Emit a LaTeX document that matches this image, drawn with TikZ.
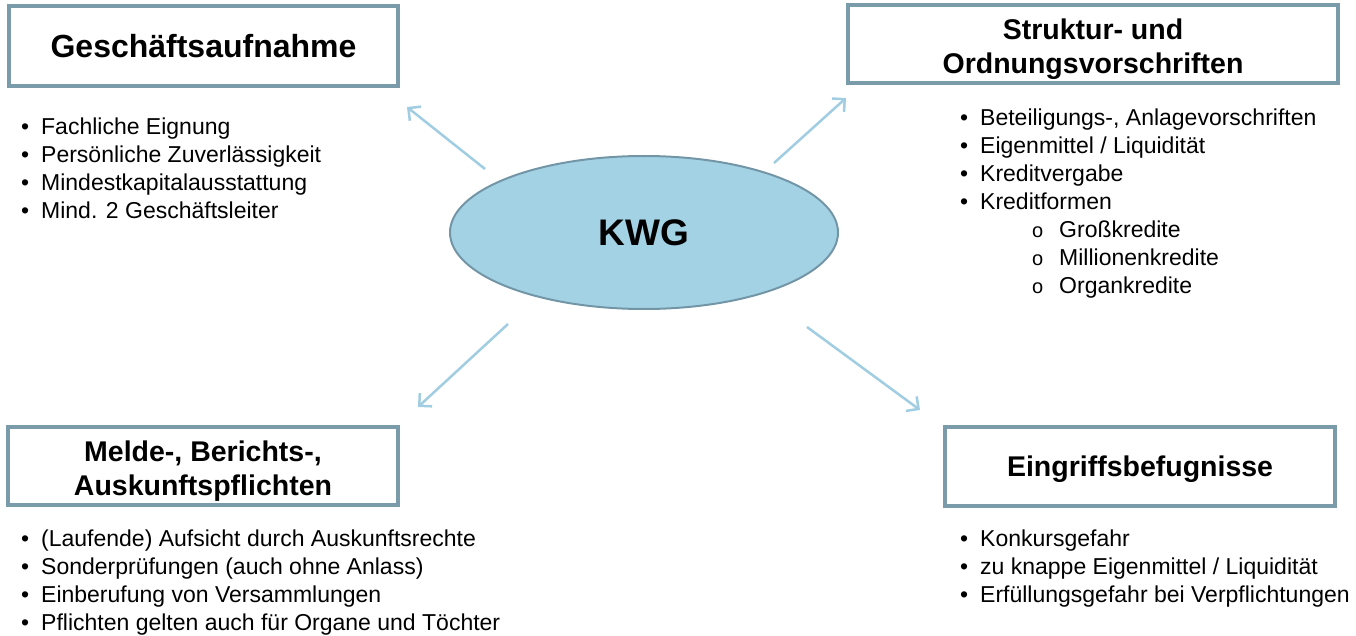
\documentclass[tikz,border=0pt]{standalone}
\usepackage{fontspec}
\setmainfont{Liberation Sans}
\usetikzlibrary{shapes.geometric,arrows.meta}
\definecolor{boxline}{RGB}{122,155,170}
\definecolor{kwgfill}{RGB}{164,210,229}
\definecolor{kwgline}{RGB}{115,150,167}
\definecolor{spokeblue}{RGB}{160,205,225}
\newcommand{\itm}[1]{\strut\makebox[20pt][l]{\textbullet}#1}
\newcommand{\subitm}[1]{\strut\hspace*{72pt}\makebox[27pt][l]{\fontsize{20}{28}\selectfont o}#1}
\tikzset{
  titlebox/.style={draw=boxline, line width=4pt, fill=white, align=center, inner sep=0pt,
    text depth=0pt, font=\fontsize{28.5}{34}\selectfont\bfseries},
  itemlist/.style={anchor=north west, align=left, inner sep=0pt, font=\fontsize{23}{28}\selectfont},
  spoke/.style={draw=spokeblue, line width=2.5pt, -{Straight Barb[length=9pt,width=18pt]}}
}
\begin{document}
\begin{tikzpicture}[x=1pt,y=-1pt]
  \useasboundingbox (0,0) rectangle (1356,636);
  \node[ellipse, draw=kwgline, line width=2pt, fill=kwgfill, minimum width=388pt, minimum height=153pt,
    inner sep=0pt, font=\fontsize{37}{40}\selectfont\bfseries] (kwg) at (644,232.5) {KWG};

  \node[titlebox, minimum width=389pt, minimum height=80pt, font=\fontsize{32}{34}\selectfont\bfseries]
    (aufnahme) at (203.5,46) {Geschäftsaufnahme};
  \node[titlebox, minimum width=490pt, minimum height=78pt] (struktur) at (1093,44)
    {\rule{0pt}{25pt}Struktur- und\\Ordnungsvorschriften};
  \node[titlebox, minimum width=390pt, minimum height=78pt] (melde) at (203,466)
    {\rule{0pt}{25pt}Melde-, Berichts-,\\Auskunftspflichten};
  \node[titlebox, minimum width=390pt, minimum height=79pt] (eingriff) at (1140,466.5)
    {Eingriffsbefugnisse};

  \node[itemlist] (aufnahmelist) at (21,114.4) {
    \itm{Fachliche Eignung}\\
    \itm{Persönliche Zuverlässigkeit}\\
    \itm{Mindestkapitalausstattung}\\
    \itm{Mind. 2 Geschäftsleiter}};
  \node[itemlist] (strukturlist) at (960,105.4) {
    \itm{Beteiligungs-, Anlagevorschriften}\\
    \itm{Eigenmittel / Liquidität}\\
    \itm{Kreditvergabe}\\
    \itm{Kreditformen}\\
    \subitm{Großkredite}\\
    \subitm{Millionenkredite}\\
    \subitm{Organkredite}};
  \node[itemlist] (meldelist) at (21,526.4) {
    \itm{(Laufende) Aufsicht durch Auskunftsrechte}\\
    \itm{Sonderprüfungen (auch ohne Anlass)}\\
    \itm{Einberufung von Versammlungen}\\
    \itm{Pflichten gelten auch für Organe und Töchter}};
  \node[itemlist] (eingrifflist) at (960,526.4) {
    \itm{Konkursgefahr}\\
    \itm{zu knappe Eigenmittel / Liquidität}\\
    \itm{Erfüllungsgefahr bei Verpflichtungen}};

  \coordinate (s1) at (485,169);
  \coordinate (e1) at (407,107);
  \coordinate (s2) at (774,163);
  \coordinate (e2) at (846,98);
  \coordinate (s3) at (508,324);
  \coordinate (e3) at (418,407);
  \coordinate (s4) at (807,327);
  \coordinate (e4) at (920,410);
  \begin{scope}[spoke]
    \draw (s1) -- (e1);
    \draw (s2) -- (e2);
    \draw (s3) -- (e3);
    \draw (s4) -- (e4);
  \end{scope}
\end{tikzpicture}
\end{document}
